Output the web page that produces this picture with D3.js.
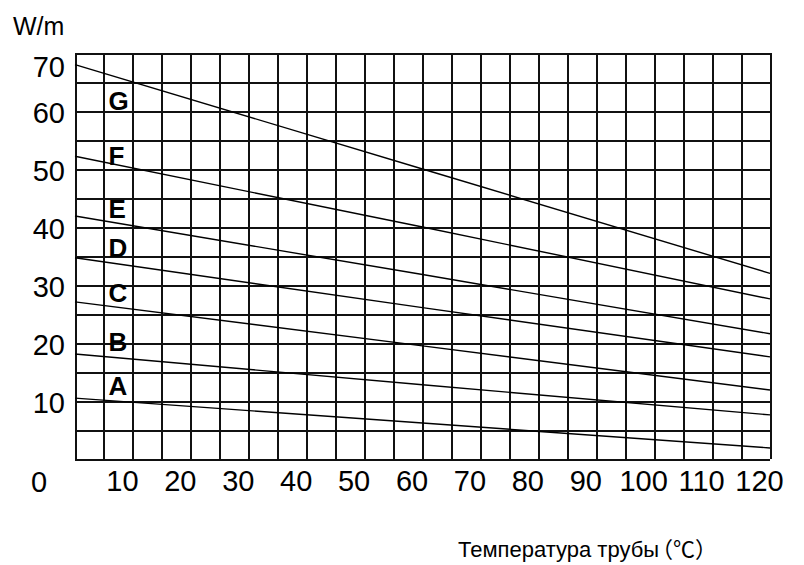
<!DOCTYPE html>
<html>
<head>
<meta charset="utf-8">
<script src="https://cdn.jsdelivr.net/npm/d3@7/dist/d3.min.js"></script>
<style>
  body { margin: 0; background: #fff; }
  svg text { font-family: "Liberation Sans", Arial, sans-serif; fill: #000; }
</style>
</head>
<body>
<div id="chart"></div>
<script>
// values
const xSample = [0, 60, 120];
const seriesNames = ["A", "B", "C", "D", "E", "F", "G"];
const valuesA = [10.5, 6.2, 1.9];
const valuesB = [18.1, 12.8, 7.6];
const valuesC = [27.1, 19.5, 11.9];
const valuesD = [34.7, 26.1, 17.6];
const valuesE = [41.9, 31.8, 21.6];
const valuesF = [52.2, 40.0, 27.6];
const valuesG = [68.0, 50.0, 32.0];
// where the series letters sit (data units)
const labelX = 5.8;
const labelValues = [11.0, 18.6, 27.1, 34.8, 41.6, 50.7, 60.2];
const xTickLabels = [10, 20, 30, 40, 50, 60, 70, 80, 90, 100, 110, 120];
const yTickLabels = [10, 20, 30, 40, 50, 60, 70];
const gridStep = 5;

const allValues = [valuesA, valuesB, valuesC, valuesD, valuesE, valuesF, valuesG];

const margin = { top: 53, right: 34, bottom: 106, left: 75 };
const W = 804, H = 565;
const width = W - margin.left - margin.right;
const height = H - margin.top - margin.bottom;

const x = d3.scaleLinear().domain([0, 120]).range([0, width]);
const y = d3.scaleLinear().domain([0, 70]).range([height, 0]);

const svg = d3.select("#chart").append("svg")
  .attr("width", W).attr("height", H);

const g = svg.append("g")
  .attr("transform", `translate(${margin.left},${margin.top})`);

// grid
const gridX = g.append("g")
  .attr("transform", `translate(0,${height})`)
  .call(d3.axisBottom(x).tickValues(d3.range(0, 121, gridStep)).tickSize(-height).tickFormat(""));
const gridY = g.append("g")
  .call(d3.axisLeft(y).tickValues(d3.range(0, 71, gridStep)).tickSize(-width).tickFormat(""));
[gridX, gridY].forEach(a => {
  a.select(".domain").remove();
  a.selectAll("line").attr("stroke", "#111").attr("stroke-width", 2).attr("shape-rendering", "crispEdges");
});

// series lines
const line = d3.line()
  .x((d, i) => x(xSample[i]))
  .y(d => y(d));

g.selectAll("path.series")
  .data(allValues)
  .join("path")
  .attr("class", "series")
  .attr("fill", "none")
  .attr("stroke", "#000")
  .attr("stroke-width", 1.4)
  .attr("d", line);

// series letters
g.selectAll("text.name")
  .data(seriesNames)
  .join("text")
  .attr("class", "name")
  .attr("x", x(labelX))
  .attr("y", (d, i) => y(labelValues[i]))
  .attr("font-size", 26)
  .attr("font-weight", "bold")
  .text(d => d);

// y tick labels
const yAxis = g.append("g")
  .call(d3.axisLeft(y).tickValues(yTickLabels).tickSize(0).tickPadding(10));
yAxis.select(".domain").remove();
yAxis.selectAll("text")
  .attr("font-size", 29)
  .attr("font-family", "Liberation Sans, Arial, sans-serif")
  .attr("dy", (d) => d === 70 ? "0.82em" : "0.4em");

// x tick labels
const xAxis = g.append("g")
  .attr("transform", `translate(0,${height})`)
  .call(d3.axisBottom(x).tickValues(xTickLabels).tickSize(0).tickPadding(11));
xAxis.select(".domain").remove();
xAxis.selectAll("text")
  .attr("font-size", 29)
  .attr("font-family", "Liberation Sans, Arial, sans-serif")
  .attr("dx", "-11");

// origin label
g.append("text")
  .attr("x", -36)
  .attr("y", height + 33)
  .attr("text-anchor", "middle")
  .attr("font-size", 29)
  .text("0");

// unit
svg.append("text")
  .attr("x", 13)
  .attr("y", 35)
  .attr("font-size", 25)
  .text("W/m");

// axis title
const title = svg.append("text")
  .attr("x", 458)
  .attr("y", 557)
  .attr("font-size", 22);
title.append("tspan").text("Температура трубы");
title.append("tspan")
  .attr("dx", -8)
  .style("font-family", "'Noto Sans CJK SC', sans-serif")
  .text("（℃）");
</script>
</body>
</html>
